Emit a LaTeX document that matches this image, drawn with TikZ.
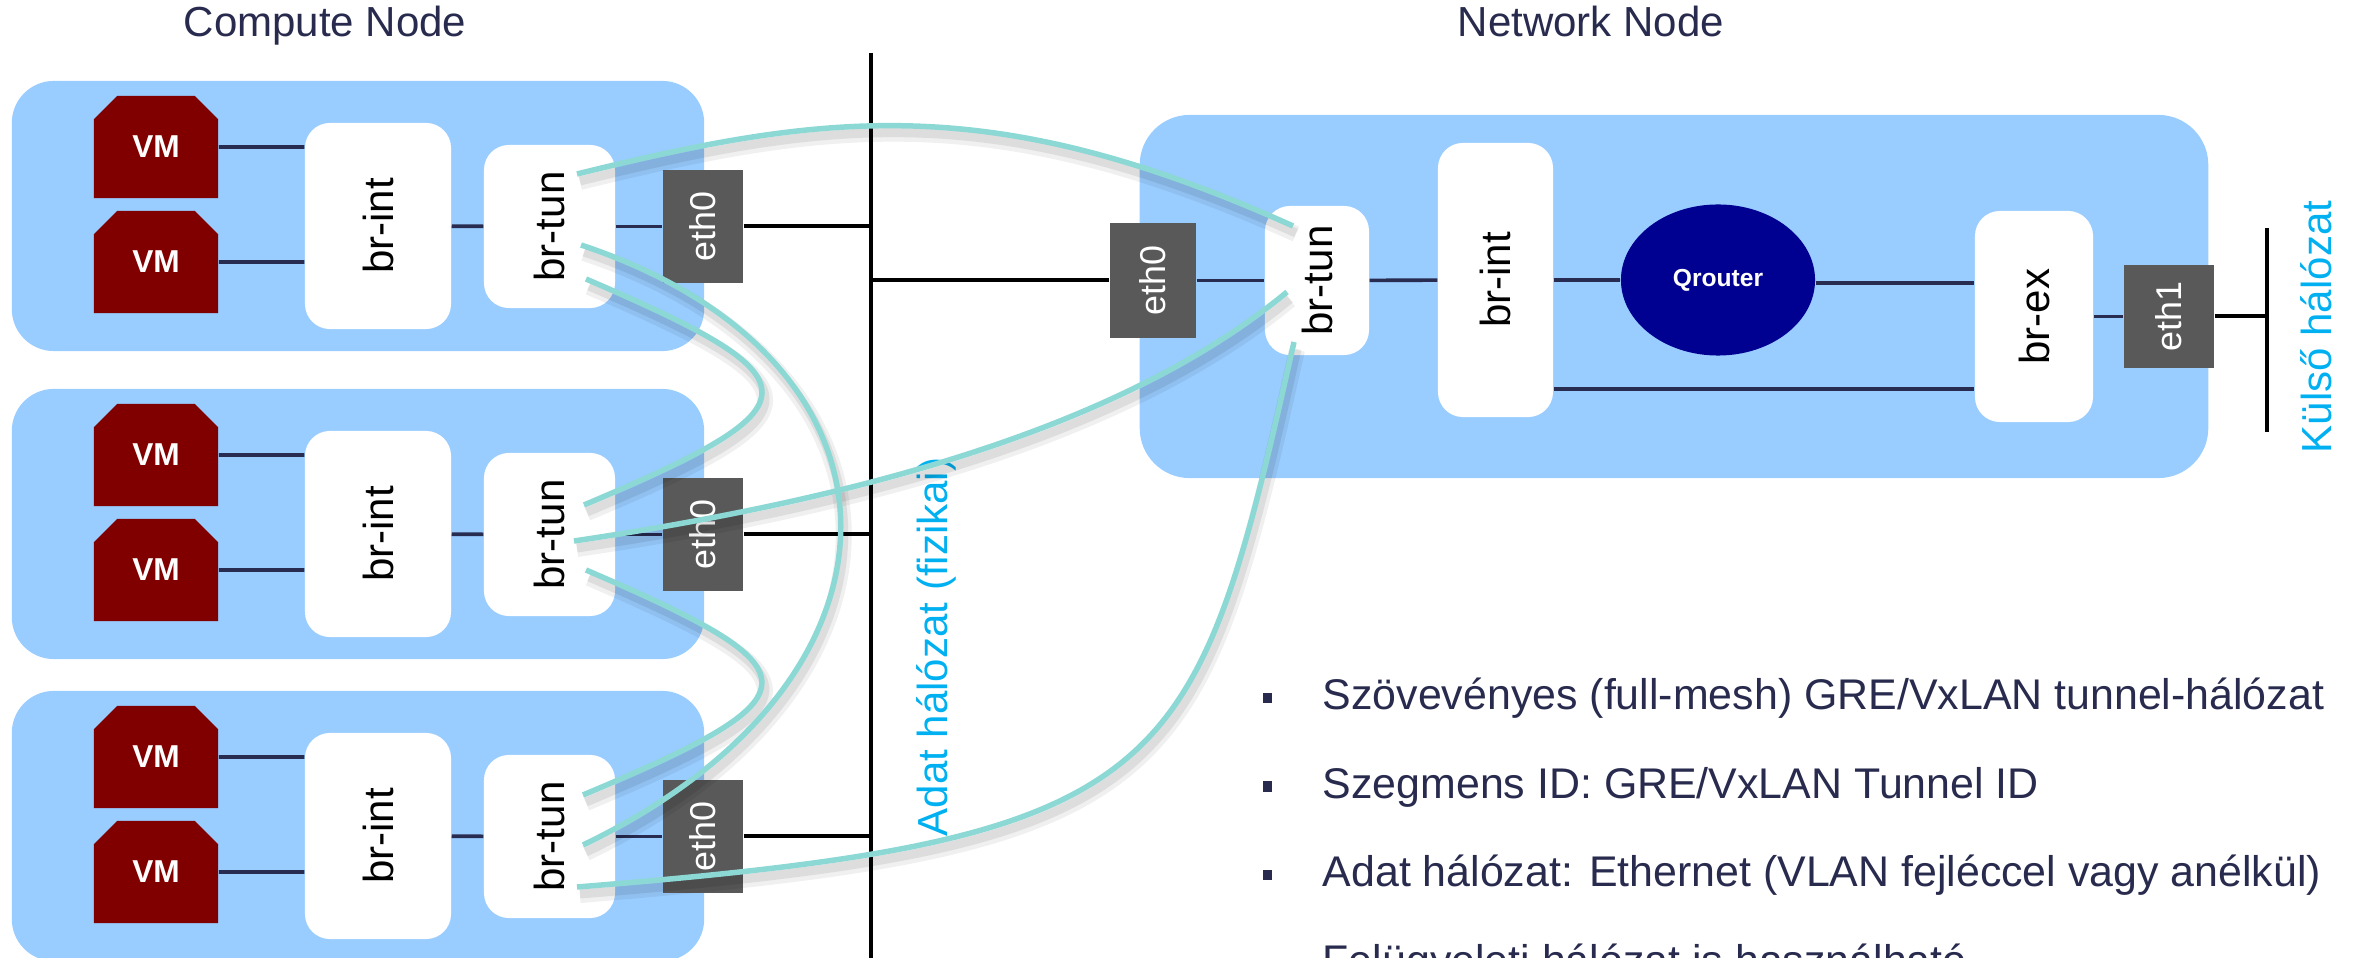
\documentclass[tikz,border=0pt]{standalone}
\usepackage{fontspec}
\setmainfont{Liberation Sans}
\usetikzlibrary{shapes.misc,shapes.geometric,calc}
\definecolor{lblue}{RGB}{153,204,255}
\definecolor{vmred}{RGB}{128,0,0}
\definecolor{ethgray}{RGB}{89,89,89}
\definecolor{navyline}{RGB}{40,44,80}
\definecolor{txtnavy}{RGB}{40,43,78}
\definecolor{qblue}{RGB}{0,0,145}
\definecolor{cyantxt}{RGB}{0,176,240}
\definecolor{tealline}{RGB}{140,216,212}
\newcommand\tunnelset[1]{%
  \draw[#1] (t1a) .. controls (828,112) and (993,91) .. (na);
  \draw[#1] (t1b) .. controls (927,360) and (927,680) .. (t3b);
  \draw[#1] (t1c) .. controls (821,380) and (821,405) .. (t2a);
  \draw[#1] (t2b) .. controls (850,500) and (1120,430) .. (nb);
  \draw[#1] (t2c) .. controls (821,671) and (821,695) .. (t3a);
  \draw[#1] (t3c) .. controls (1177,839) and (1195,781) .. (nc);
}
\begin{document}
\begin{tikzpicture}[x=0.01cm,y=-0.01cm,
  hostbox/.style={fill=lblue, rounded corners=0.42cm, inner sep=0pt},
  vmbox/.style={chamfered rectangle, chamfered rectangle corners={north west,north east},
    chamfered rectangle xsep=0.2cm, fill=vmred, text=white,
    font=\fontsize{9}{10}\selectfont\bfseries, minimum width=1.24cm, minimum height=1.02cm, inner sep=0pt},
  swbox/.style={fill=white, rounded corners=0.25cm, inner sep=0pt, font=\fontsize{11.95}{14}\selectfont},
  ethbox/.style={fill=ethgray, text=white, inner sep=0pt, font=\fontsize{10.2}{12}\selectfont},
  navyln/.style={draw=navyline, line width=0.36mm},
  blackln/.style={draw=black, line width=0.4mm},
  titletxt/.style={text=txtnavy, font=\fontsize{11.95}{14}\selectfont, inner sep=0pt},
  cyanlbl/.style={text=cyantxt, font=\fontsize{11.95}{14}\selectfont, inner sep=0pt},
  bullettxt/.style={text=txtnavy, font=\fontsize{12.2}{14}\selectfont, inner sep=0pt},
  bulletsq/.style={fill=txtnavy, minimum width=0.09cm, minimum height=0.1cm, inner sep=0pt},
  tunnel/.style={draw=tealline, line width=0.55mm},
  tshadowA/.style={draw=black, opacity=0.06, line width=0.16cm, transform canvas={shift={(0.03cm,-0.08cm)}}},
  tshadowB/.style={draw=black, opacity=0.08, line width=0.09cm, transform canvas={shift={(0.03cm,-0.07cm)}}}
]
\useasboundingbox (0,0) rectangle (2356,958);

% compute nodes
\foreach \i/\dy in {1/0,2/308,3/610}{
  \node[hostbox, minimum width=6.92cm, minimum height=2.70cm] (host\i) at (358,216+\dy) {};
  \node[vmbox] (vma\i) at (156,147+\dy) {VM};
  \node[vmbox] (vmb\i) at (156,262+\dy) {VM};
  \node[swbox, minimum width=1.46cm, minimum height=2.06cm] (bi\i) at (378,226+\dy) {\rotatebox{90}{br-int}};
  \node[swbox, minimum width=1.31cm, minimum height=1.63cm] (bt\i) at (549.5,226.5+\dy) {\rotatebox{90}{br-tun}};
  \node[ethbox, minimum width=0.80cm, minimum height=1.13cm] (e\i) at (703,226.5+\dy) {\rotatebox{90}{eth0}};
  \coordinate (bus\i) at (871,226.5+\dy);
  \draw[navyln] (vma\i) -- (vma\i -| bi\i.west);
  \draw[navyln] (vmb\i) -- (vmb\i -| bi\i.west);
  \draw[navyln] (bi\i) -- (bt\i);
  \draw[navyln] (bt\i) -- (e\i);
  \draw[blackln] (e\i) -- (bus\i);
}

% data network bus
\coordinate (bustop) at (871,53);
\coordinate (busbot) at (871,960);
\draw[blackln] (bustop) -- (busbot);

% network node
\node[hostbox, rounded corners=0.5cm, minimum width=10.68cm, minimum height=3.63cm] (nethost) at (1674,296.5) {};
\node[ethbox, minimum width=0.86cm, minimum height=1.15cm] (neth0) at (1153,280.5) {\rotatebox{90}{eth0}};
\node[swbox, minimum width=1.04cm, minimum height=1.49cm] (nbt) at (1317,280.5) {\rotatebox{90}{br-tun}};
\node[swbox, minimum width=1.15cm, minimum height=2.74cm] (nbi) at (1495.5,280) {\rotatebox{90}{br-int}};
\node[ellipse, fill=qblue, text=white, inner sep=0pt, minimum width=1.94cm, minimum height=1.51cm,
  font=\fontsize{7}{8}\selectfont\bfseries] (qr) at (1718,280) {Qrouter};
\node[swbox, minimum width=1.18cm, minimum height=2.11cm] (brex) at (2034,316.5) {\rotatebox{90}{br-ex}};
\node[ethbox, minimum width=0.90cm, minimum height=1.03cm] (eth1) at (2169,316.5) {\rotatebox{90}{eth1}};
\coordinate (extT) at (2267,228);
\coordinate (extB) at (2267,432);
\coordinate (lowy) at (0,389);
\coordinate (qry) at (0,283);

\draw[blackln] (neth0 -| bustop) -- (neth0);
\draw[navyln] (neth0) -- (nbt);
\draw[navyln] (nbt) -- (nbi);
\draw[navyln] (nbi) -- (qr);
\draw[navyln] (qr.east |- qry) -- (brex.west |- qry);
\draw[navyln] (nbi.east |- lowy) -- (brex.west |- lowy);
\draw[navyln] (brex) -- (eth1);
\draw[blackln] (eth1) -- (eth1 -| extT);
\draw[blackln] (extT) -- (extB);

% texts
\node[titletxt, anchor=base] (tc) at (325,37) {Compute Node};
\node[titletxt, anchor=base] (tn) at (1591,37) {Network Node};
\node[cyanlbl, rotate=90] (adat) at (936,647) {Adat hálózat (fizikai)};
\node[cyanlbl, rotate=90] (kulso) at (2316,327) {Külső hálózat};

\node[bulletsq] (s1) at (1267.5,698) {};
\node[bulletsq] (s2) at (1267.5,786.5) {};
\node[bulletsq] (s3) at (1267.5,875) {};
\node[bulletsq] (s4) at (1267.5,963.5) {};
\node[bullettxt, anchor=base west] (b1) at (1322,710) {Szövevényes (full-mesh) GRE/VxLAN tunnel-hálózat};
\node[bullettxt, anchor=base west] (b2) at (1322,798.5) {Szegmens ID: GRE/VxLAN Tunnel ID};
\node[bullettxt, anchor=base west] (b3) at (1322,887) {Adat hálózat: Ethernet (VLAN fejléccel vagy anélkül)};
\node[bullettxt, anchor=base west] (b4) at (1322,975.5) {Felügyeleti hálózat is használható};

% tunnel endpoints
\coordinate (t1a) at ($(bt1)+(27.5,-52.5)$);
\coordinate (t1b) at ($(bt1)+(31.5,18.5)$);
\coordinate (t1c) at ($(bt1)+(36.5,52.5)$);
\coordinate (t2a) at ($(bt2)+(34.5,-29.5)$);
\coordinate (t2b) at ($(bt2)+(24.5,6.5)$);
\coordinate (t2c) at ($(bt2)+(36.5,35.5)$);
\coordinate (t3a) at ($(bt3)+(33.5,-41.5)$);
\coordinate (t3b) at ($(bt3)+(33.5,8.5)$);
\coordinate (t3c) at ($(bt3)+(27.5,50.5)$);
\coordinate (na) at ($(nbt)+(-24,-54.5)$);
\coordinate (nb) at ($(nbt)+(-30,11.5)$);
\coordinate (nc) at ($(nbt)+(-23,61.5)$);

\tunnelset{tshadowA}
\tunnelset{tshadowB}
\tunnelset{tunnel}
\end{tikzpicture}
\end{document}
